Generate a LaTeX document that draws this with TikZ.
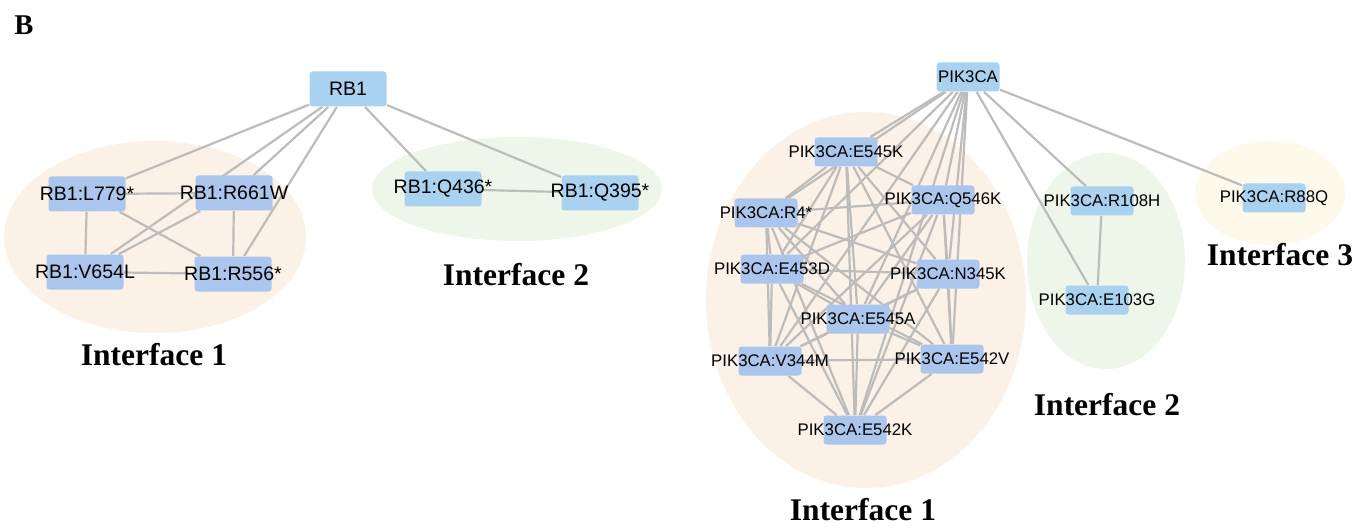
\documentclass[tikz,border=0pt]{standalone}
\usepackage{fontspec}
\setmainfont{Liberation Serif}
\newfontfamily\arialfont{Liberation Sans}
\definecolor{boxblue}{RGB}{168,210,240}
\definecolor{boxlav}{RGB}{170,198,236}
\definecolor{grouporange}{RGB}{252,241,230}
\definecolor{groupgreen}{RGB}{237,246,232}
\definecolor{groupyellow}{RGB}{253,250,236}
\definecolor{linkgray}{RGB}{190,188,186}
\pgfdeclarelayer{groups}
\pgfdeclarelayer{links}
\pgfsetlayers{groups,links,main}
\newcommand{\mutlabel}[1]{\makebox[0pt]{#1}}
\tikzset{
	bigbox/.style={fill=boxblue, rounded corners=1.5pt, inner sep=0pt, minimum width=38.5pt, minimum height=17.5pt, font=\arialfont\fontsize{9.75}{11}\selectfont},
	smallbox/.style={fill=boxblue, rounded corners=1.5pt, inner sep=0pt, minimum width=31.5pt, minimum height=14.5pt, font=\arialfont\fontsize{8.4}{10}\selectfont},
	link/.style={draw=linkgray, line width=1.1pt},
	iface/.style={font=\bfseries\fontsize{15.75}{18}\selectfont, inner sep=0pt}
}
\begin{document}
\begin{tikzpicture}[x=0.5pt, y=-0.5pt, line join=round, line cap=round]
	\useasboundingbox (0,0) rectangle (1364,529);
	\node[font=\bfseries\fontsize{14.3}{16}\selectfont, inner sep=0pt] (panel) at (24,25) {B};
	
	\begin{pgfonlayer}{groups}
		\fill[grouporange] (155,237) ellipse [x radius=151, y radius=96];
		\fill[groupgreen] (517,189) ellipse [x radius=145, y radius=52];
		\fill[grouporange] (866,300) ellipse [x radius=160, y radius=188];
		\fill[groupgreen] (1106,261) ellipse [x radius=79, y radius=108];
		\fill[groupyellow] (1270,193) ellipse [x radius=75, y radius=52];
	\end{pgfonlayer}
	
	\node[bigbox] (RB1) at (348,89) {\mutlabel{RB1}};
	\node[bigbox, fill=boxlav] (L779) at (87,194) {\mutlabel{RB1:L779*}};
	\node[bigbox, fill=boxlav] (R661W) at (234,193) {\mutlabel{RB1:R661W}};
	\node[bigbox, fill=boxlav] (V654L) at (85,272) {\mutlabel{RB1:V654L}};
	\node[bigbox, fill=boxlav] (R556) at (233,274) {\mutlabel{RB1:R556*}};
	\node[bigbox] (Q436) at (443,189) {\mutlabel{RB1:Q436*}};
	\node[bigbox] (Q395) at (600,193) {\mutlabel{RB1:Q395*}};
	
	\node[smallbox] (PIK3CA) at (968,77) {\mutlabel{PIK3CA}};
	\node[smallbox, fill=boxlav] (E545K) at (846,152) {\mutlabel{PIK3CA:E545K}};
	\node[smallbox, fill=boxlav] (R4) at (766,213) {\mutlabel{PIK3CA:R4*}};
	\node[smallbox, fill=boxlav] (Q546K) at (943,200) {\mutlabel{PIK3CA:Q546K}};
	\node[smallbox, fill=boxlav] (E453D) at (772,269) {\mutlabel{PIK3CA:E453D}};
	\node[smallbox, fill=boxlav] (N345K) at (948,274) {\mutlabel{PIK3CA:N345K}};
	\node[smallbox, fill=boxlav] (E545A) at (858,319) {\mutlabel{PIK3CA:E545A}};
	\node[smallbox, fill=boxlav] (V344M) at (770,361) {\mutlabel{PIK3CA:V344M}};
	\node[smallbox, fill=boxlav] (E542V) at (952,359) {\mutlabel{PIK3CA:E542V}};
	\node[smallbox, fill=boxlav] (E542K) at (855,430) {\mutlabel{PIK3CA:E542K}};
	\node[smallbox] (R108H) at (1102,201) {\mutlabel{PIK3CA:R108H}};
	\node[smallbox] (E103G) at (1097,300) {\mutlabel{PIK3CA:E103G}};
	\node[smallbox] (R88Q) at (1274,198) {\mutlabel{PIK3CA:R88Q}};
	
	\node[iface] (rbif1) at (154,355) {Interface 1};
	\node[iface] (rbif2) at (516,275) {Interface 2};
	\node[iface] (pkif1) at (863,510) {Interface 1};
	\node[iface] (pkif2) at (1107,405) {Interface 2};
	\node[iface] (pkif3) at (1280,255) {Interface 3};
	
	\begin{pgfonlayer}{links}
		\foreach \a/\b in {RB1/L779,RB1/R661W,RB1/V654L,RB1/R556,RB1/Q436,RB1/Q395,
			L779/R661W,L779/V654L,L779/R556,R661W/V654L,R661W/R556,V654L/R556,Q436/Q395,
			PIK3CA/R108H,PIK3CA/E103G,PIK3CA/R88Q,R108H/E103G}
		\draw[link] (\a)--(\b);
		\foreach \a [count=\i] in {E545K,R4,Q546K,E453D,N345K,E545A,V344M,E542V,E542K}{
			\draw[link] (PIK3CA)--(\a);
			\foreach \b [count=\j] in {E545K,R4,Q546K,E453D,N345K,E545A,V344M,E542V,E542K}{
				\ifnum\i<\j \draw[link] (\a)--(\b); \fi
			}
		}
	\end{pgfonlayer}
\end{tikzpicture}
\end{document}
